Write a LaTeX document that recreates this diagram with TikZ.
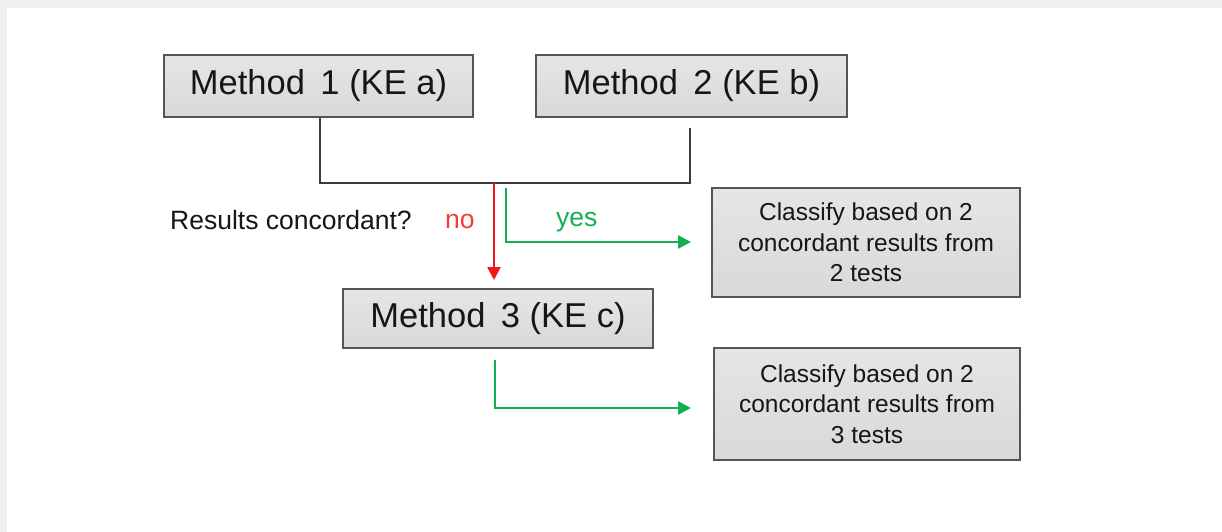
\documentclass[tikz,border=0pt]{standalone}
\usepackage{fontspec}
\setmainfont{Liberation Sans}
\usetikzlibrary{arrows.meta}
\definecolor{bgray}{HTML}{F0F0F0}
\definecolor{boxline}{HTML}{555555}
\definecolor{linegray}{HTML}{3C3C3C}
\definecolor{myred}{HTML}{F01818}
\definecolor{mygreen}{HTML}{12B050}
\definecolor{txt}{HTML}{161616}
\tikzset{
  box/.style={draw=boxline, line width=2.8pt, top color=white!90!black, bottom color=white!85!black,
    text=txt, inner sep=0pt, align=center},
  bigbox/.style={box, font=\fontsize{34.5}{38}\selectfont},
  smallbox/.style={box, font=\fontsize{24.5}{30.5}\selectfont},
  conn/.style={draw=linegray, line width=2.3pt},
  arr/.style={line width=2.6pt, -{Triangle[length=13pt,width=13pt]}},
  lbl/.style={font=\fontsize{26.5}{30}\selectfont, inner sep=0pt}
}
\begin{document}
\begin{tikzpicture}[x=1pt,y=-1pt]
\fill[bgray] (0,0) rectangle (1222,532);
\fill[white] (7,8) rectangle (1222,532);
\useasboundingbox (0,0) rectangle (1222,532);

\node[bigbox, minimum width=309pt, minimum height=62pt] (m1) at (318.5,86) {Method\hspace{0.45em}1 (KE a)};
\node[bigbox, minimum width=311pt, minimum height=62pt] (m2) at (691.5,86) {Method\hspace{0.45em}2 (KE b)};
\node[bigbox, minimum width=310pt, minimum height=59pt] (m3) at (498,318.5) {Method\hspace{0.45em}3 (KE c)};
\node[smallbox, minimum width=308pt, minimum height=109pt] (c2) at (866,242.5) {Classify based on 2\\concordant results from\\2 tests};
\node[smallbox, minimum width=306pt, minimum height=112pt] (c3) at (867,404) {Classify based on 2\\concordant results from\\3 tests};

\coordinate (j1) at (690,183);
\coordinate (j2) at (690,128);
\draw[conn] (m1.south -| 320,0) |- (j1) -- (j2);

\coordinate (r0) at (494,183);
\coordinate (r1) at (494,280);
\draw[arr, myred] (r0) -- (r1);

\coordinate (g0) at (506,188);
\coordinate (g1) at (691,242);
\draw[arr, mygreen] (g0) |- (g1);

\coordinate (h0) at (495,360);
\coordinate (h1) at (691,408);
\draw[arr, mygreen] (h0) |- (h1);

\node[lbl, text=txt, anchor=west] (q) at (170,220) {Results concordant?};
\node[lbl, text=myred!85!white, anchor=west] (no) at (445,221) {no};
\node[lbl, text=mygreen, anchor=west] (yes) at (556,222) {yes};
\end{tikzpicture}
\end{document}
